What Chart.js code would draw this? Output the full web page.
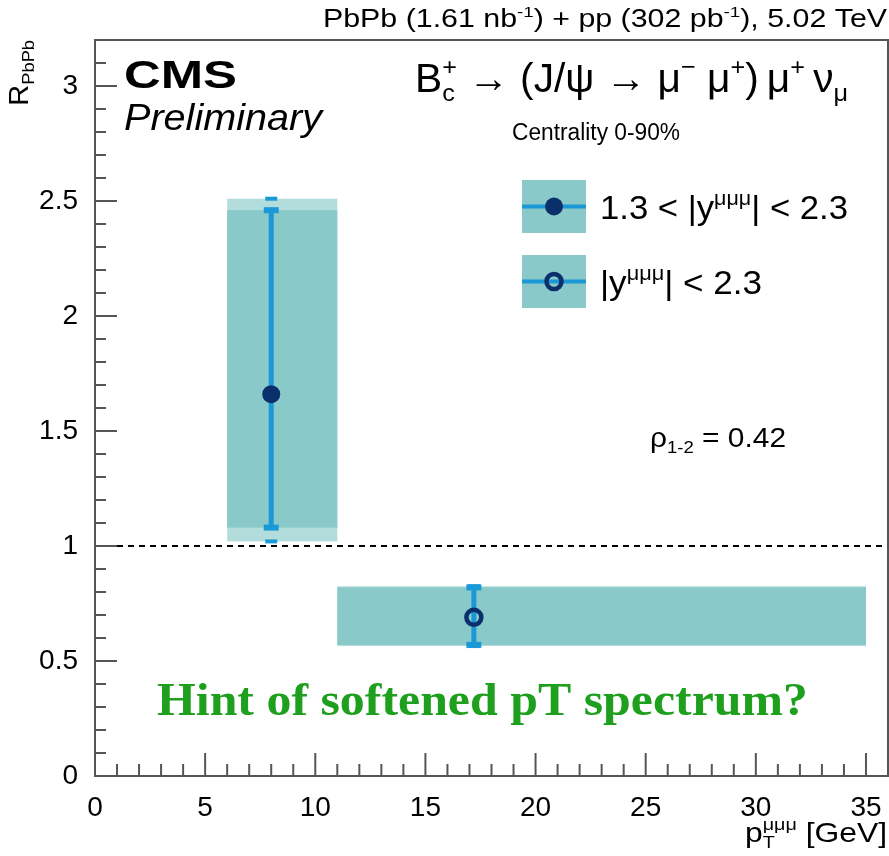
<!DOCTYPE html>
<html>
<head>
<meta charset="utf-8">
<script src="https://cdn.jsdelivr.net/npm/chart.js@4.4.1/dist/chart.umd.min.js"></script>
<style>
  html, body { margin: 0; padding: 0; background: #fff; }
</style>
</head>
<body>
<canvas id="chart" width="889" height="856"></canvas>
<script>
// values
const ptCenter = [8, 17.2];
const binLow = [6, 11];
const binHigh = [11, 35];
const raa = [1.66, 0.69];
const statLow = [1.08, 0.57];
const statHigh = [2.46, 0.82];
const sysLow = [1.02, 0.565];
const sysHigh = [2.51, 0.825];
const seriesLabels = ['1.3 < |y^μμμ| < 2.3', '|y^μμμ| < 2.3'];
const xTickStep = 5;
const yTickStep = 0.5;

const boxColor = '#89c9c9';
const boxLight = '#b3dcdc';
const barColor = '#1b98d6';
const markColor = '#0b2f6b';
const fontSans = '"Liberation Sans", Arial, sans-serif';

// draws text with sub/superscripts, optionally stretched to a width
// parts: [text, mode(0 normal, 1 sup, -1 sub), stack]
function rich(ctx, parts, x, y, o) {
    const size = o.size;
    const base = (o.style || '') + ' ' + (o.weight || '') + ' ';
    const fam = o.family || fontSans;
    function fontFor(mode) {
        return base + (mode ? size * 0.62 : size) + 'px ' + fam;
    }
    let total = 0, stackW = 0;
    parts.forEach(p => {
        ctx.font = fontFor(p[1]);
        const w = ctx.measureText(p[0]).width;
        if (p[2]) { stackW = w; return; }
        total += Math.max(w, stackW);
        stackW = 0;
    });
    const sx = o.width ? o.width / total : 1;
    let off = 0;
    if (o.align === 'right') off = -total * sx;
    if (o.align === 'center') off = -total * sx / 2;
    ctx.save();
    ctx.translate(x, y);
    if (o.rotate) ctx.rotate(o.rotate);
    ctx.translate(off, 0);
    ctx.scale(sx, 1);
    ctx.fillStyle = o.color || '#000';
    ctx.textBaseline = 'alphabetic';
    ctx.textAlign = 'left';
    let cx = 0;
    stackW = 0;
    parts.forEach(p => {
        ctx.font = fontFor(p[1]);
        const w = ctx.measureText(p[0]).width;
        let dy = 0;
        if (p[1] === 1) dy = -size * 0.42;
        if (p[1] === -1) dy = size * 0.22;
        ctx.fillText(p[0], cx, dy);
        if (p[2]) { stackW = w; return; }
        cx += Math.max(w, stackW);
        stackW = 0;
    });
    ctx.restore();
}

function drawMarker(ctx, px, py, filled) {
    ctx.save();
    ctx.beginPath();
    if (filled) {
        ctx.arc(px, py, 9, 0, Math.PI * 2);
        ctx.fillStyle = markColor;
        ctx.fill();
    } else {
        ctx.arc(px, py, 7.5, 0, Math.PI * 2);
        ctx.lineWidth = 4.5;
        ctx.strokeStyle = markColor;
        ctx.stroke();
    }
    ctx.restore();
}

function cap(ctx, px, py, w, h) {
    ctx.fillRect(px - w / 2, py - h / 2, w, h);
}

const decor = {
    id: 'cmsDecor',
    beforeDatasetsDraw(chart) {
        const ctx = chart.ctx;
        const xs = chart.scales.x, ys = chart.scales.y;
        ctx.save();
        // systematic boxes
        for (let i = 0; i < ptCenter.length; i++) {
            const x1 = xs.getPixelForValue(binLow[i]);
            const x2 = xs.getPixelForValue(binHigh[i]);
            ctx.fillStyle = boxLight;
            ctx.fillRect(x1, ys.getPixelForValue(sysHigh[i]), x2 - x1,
                ys.getPixelForValue(sysLow[i]) - ys.getPixelForValue(sysHigh[i]));
            ctx.fillStyle = boxColor;
            ctx.fillRect(x1, ys.getPixelForValue(statHigh[i]), x2 - x1,
                ys.getPixelForValue(statLow[i]) - ys.getPixelForValue(statHigh[i]));
        }
        // error bars
        ctx.fillStyle = barColor;
        for (let i = 0; i < ptCenter.length; i++) {
            const px = xs.getPixelForValue(ptCenter[i]);
            const yh = ys.getPixelForValue(statHigh[i]);
            const yl = ys.getPixelForValue(statLow[i]);
            ctx.fillRect(px - 2.5, yh, 5, yl - yh);
            cap(ctx, px, yh, 15, 6);
            cap(ctx, px, yl, 15, 6);
            const sh = ys.getPixelForValue(sysHigh[i]);
            const sl = ys.getPixelForValue(sysLow[i]);
            cap(ctx, px, sh, 12, 4);
            cap(ctx, px, sl, 12, 4);
        }
        ctx.restore();
    },
    afterDraw(chart) {
        const ctx = chart.ctx;
        const a = chart.chartArea;
        const xs = chart.scales.x, ys = chart.scales.y;
        ctx.save();
        // frame
        ctx.strokeStyle = '#555';
        ctx.lineWidth = 2;
        ctx.strokeRect(a.left, a.top, a.right - a.left, a.bottom - a.top);
        // inward ticks
        ctx.beginPath();
        for (let v = 0; v <= 36; v++) {
            const px = xs.getPixelForValue(v);
            const len = v % 5 === 0 ? 23 : 12;
            ctx.moveTo(px, a.bottom);
            ctx.lineTo(px, a.bottom - len);
        }
        for (let i = 0; i <= 32; i++) {
            const py = ys.getPixelForValue(i / 10);
            const len = i % 5 === 0 ? 22 : 11;
            ctx.moveTo(a.left, py);
            ctx.lineTo(a.left + len, py);
        }
        ctx.stroke();
        ctx.restore();

        // texts
        rich(ctx, [['PbPb (1.61 nb', 0], ['-1', 1], [') + pp (302 pb', 0], ['-1', 1], ['), 5.02 TeV', 0]],
            887, 27, { size: 25, align: 'right', width: 564 });
        rich(ctx, [['CMS', 0]], 124, 88, { size: 38, weight: 'bold', width: 113 });
        rich(ctx, [['Preliminary', 0]], 124, 130, { size: 36, style: 'italic', width: 198 });
        rich(ctx, [['B', 0], ['c', -1, true], ['+', 1], [' \u2192 (J/\u03c8 \u2192 \u03bc', 0], ['\u2212', 1],
            [' \u03bc', 0], ['+', 1], [')\u2009\u03bc', 0], ['+', 1], ['\u2009\u03bd', 0], ['\u03bc', -1]],
            415, 92, { size: 40, width: 433 });
        rich(ctx, [['Centrality 0-90%', 0]], 512, 140, { size: 23, width: 168 });
        rich(ctx, [['\u03c1', 0], ['1-2', -1], [' = 0.42', 0]], 650, 447, { size: 28, width: 136 });
        rich(ctx, [['Hint of softened pT spectrum?', 0]], 157, 715,
            { size: 47, weight: 'bold', family: '"Liberation Serif", "Times New Roman", serif', color: '#1ea01e', width: 651 });

        // axis titles
        rich(ctx, [['R', 0], ['PbPb', -1]], 28, 40, { size: 28, align: 'right', rotate: -Math.PI / 2, width: 66 });
        rich(ctx, [['p', 0], ['T', -1, true], ['\u03bc\u03bc\u03bc', 1], [' [GeV]', 0]], 887, 842,
            { size: 28, align: 'right', width: 142 });

        // legend
        const rows = [[180, true], [255, false]];
        rows.forEach((r, i) => {
            const top = r[0];
            ctx.save();
            ctx.fillStyle = boxColor;
            ctx.fillRect(522, top, 64, 53);
            ctx.fillStyle = barColor;
            ctx.fillRect(522, top + 24.5, 64, 4);
            ctx.restore();
            drawMarker(ctx, 554, top + 26.5, r[1]);
            const lbl = seriesLabels[i].split('^');
            const rest = lbl[1].split('|');
            const parts = [[lbl[0], 0], [rest[0], 1], ['|' + rest.slice(1).join('|'), 0]];
            rich(ctx, parts, 600, top + 39, { size: 34, width: i === 0 ? 248 : 162 });
        });
    }
};

const markerPlugin = {
    id: 'markers',
    afterDatasetsDraw(chart) {
        const xs = chart.scales.x, ys = chart.scales.y;
        for (let i = 0; i < ptCenter.length; i++) {
            drawMarker(chart.ctx, xs.getPixelForValue(ptCenter[i]), ys.getPixelForValue(raa[i]), i === 0);
        }
    }
};

new Chart(document.getElementById('chart'), {
    type: 'scatter',
    data: {
        datasets: [
            {
                label: 'unity',
                type: 'line',
                data: [{ x: 0, y: 1 }, { x: 36, y: 1 }],
                borderColor: '#000',
                borderWidth: 2,
                borderDash: [6, 5],
                pointRadius: 0,
                fill: false
            },
            {
                label: seriesLabels[0],
                data: [{ x: ptCenter[0], y: raa[0] }],
                pointRadius: 0
            },
            {
                label: seriesLabels[1],
                data: [{ x: ptCenter[1], y: raa[1] }],
                pointRadius: 0
            }
        ]
    },
    options: {
        responsive: false,
        animation: false,
        layout: { padding: { top: 40, right: 1, left: 0, bottom: 0 } },
        plugins: { legend: { display: false }, tooltip: { enabled: false } },
        scales: {
            x: {
                type: 'linear', min: 0, max: 36,
                grid: { display: false }, border: { display: false },
                ticks: { stepSize: xTickStep, includeBounds: false, padding: 7, maxRotation: 0,
                    color: '#000', font: { family: fontSans, size: 28 } },
                afterFit(s) { s.height = 80; }
            },
            y: {
                type: 'linear', min: 0, max: 3.2,
                grid: { display: false }, border: { display: false },
                ticks: { stepSize: yTickStep, includeBounds: false, padding: 9,
                    color: '#000', font: { family: fontSans, size: 28 },
                    callback: v => String(Math.round(v * 10) / 10) },
                afterFit(s) { s.width = 95; }
            }
        }
    },
    plugins: [decor, markerPlugin]
});
</script>
</body>
</html>
